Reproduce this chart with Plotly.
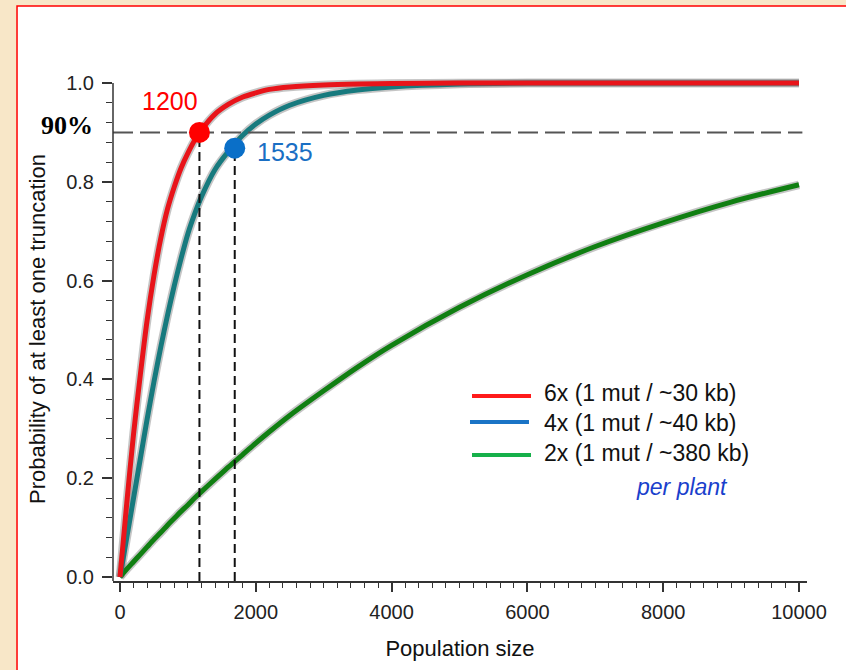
import plotly.graph_objects as go

# ---- data ----
population = [0, 100, 200, 300, 400, 500, 600, 700, 800, 900, 1000, 1100, 1200, 1400, 1600,
              1800, 2000, 2200, 2500, 3000, 3500, 4000, 5000, 6000, 7000, 8000, 9000, 10000]
prob_6x = [0, 0.15, 0.29, 0.41, 0.52, 0.61, 0.685, 0.745, 0.79, 0.828, 0.858, 0.884, 0.905, 0.937, 0.957,
           0.971, 0.98, 0.987, 0.992, 0.996, 0.998, 0.999, 1.0, 1.0, 1.0, 1.0, 1.0, 1.0]
prob_4x = [0, 0.08, 0.16, 0.24, 0.32, 0.395, 0.465, 0.53, 0.59, 0.645, 0.695, 0.735, 0.77, 0.825, 0.862,
           0.893, 0.917, 0.935, 0.955, 0.975, 0.986, 0.992, 0.998, 1.0, 1.0, 1.0, 1.0, 1.0]
prob_2x = [0, 0.016, 0.031, 0.046, 0.061, 0.076, 0.09, 0.105, 0.119, 0.133, 0.146, 0.16, 0.173, 0.198, 0.223,
           0.247, 0.271, 0.294, 0.327, 0.377, 0.425, 0.469, 0.546, 0.612, 0.669, 0.717, 0.759, 0.794]

series_names = ["6x (1 mut / ~30 kb)", "4x (1 mut / ~40 kb)", "2x (1 mut / ~380 kb)"]
threshold = 0.9
marker_pop = [1170, 1690]
marker_prob = [0.9, 0.868]
marker_labels = ["1200", "1535"]
x_ticks = [0, 2000, 4000, 6000, 8000, 10000]
y_ticks = [0.0, 0.2, 0.4, 0.6, 0.8, 1.0]

FONT = "Arial, Liberation Sans, sans-serif"
curve_colors = ["#e8141a", "#177a7e", "#107f12"]
legend_colors = ["#ff1a1a", "#1a74c6", "#16b04a"]

fig = go.Figure()

# gray halos then coloured curves
for ys in [prob_2x, prob_4x, prob_6x]:
    fig.add_trace(go.Scatter(x=population, y=ys, mode="lines", showlegend=False, hoverinfo="skip",
                             line=dict(color="rgba(140,140,140,0.5)", width=8.5, shape="spline", smoothing=0.8)))
for ys, c, n in [(prob_2x, curve_colors[2], series_names[2]),
                 (prob_4x, curve_colors[1], series_names[1]),
                 (prob_6x, curve_colors[0], series_names[0])]:
    fig.add_trace(go.Scatter(x=population, y=ys, mode="lines", name=n, showlegend=False,
                             line=dict(color=c, width=5, shape="spline", smoothing=0.8)))

# 90% threshold dashed line
fig.add_trace(go.Scatter(x=[-103, 10050], y=[threshold, threshold], mode="lines", showlegend=False,
                         hoverinfo="skip", line=dict(color="#555555", width=2, dash="20px,7px")))
# vertical dashed drops
for px_, py_ in zip(marker_pop, marker_prob):
    fig.add_trace(go.Scatter(x=[px_, px_], y=[-0.008, py_], mode="lines", showlegend=False, hoverinfo="skip",
                             line=dict(color="#111111", width=2, dash="9px,5px")))
# markers
fig.add_trace(go.Scatter(x=marker_pop, y=marker_prob, mode="markers", showlegend=False, cliponaxis=False,
                         marker=dict(size=21, color=["#ff0000", "#0a6fc8"], line=dict(width=0))))

# marker labels
fig.add_annotation(x=marker_pop[0], y=marker_prob[0], text=marker_labels[0], showarrow=False,
                   xanchor="center", yanchor="middle",
                   xshift=-29, yshift=31, font=dict(family=FONT, size=25, color="#ff0000"))
fig.add_annotation(x=marker_pop[1], y=marker_prob[1], text=marker_labels[1], showarrow=False,
                   xanchor="center", yanchor="middle",
                   xshift=50, yshift=-4, font=dict(family=FONT, size=25, color="#1a6fc4"))
fig.add_annotation(x=-0.0663, xref="paper", y=0.914, yref="y", text="<b>90%</b>", showarrow=False,
                   xanchor="center", yanchor="middle",
                   font=dict(family="Liberation Serif, Times New Roman, serif", size=26, color="#000000"))

# legend (drawn as key lines + text)
leg_rows_y = [0.373, 0.3135, 0.254]
key_y = [0.367, 0.3155, 0.25]
key_x0 = [0.5173, 0.5144, 0.5173]
for i in range(3):
    fig.add_shape(type="line", xref="paper", yref="paper", x0=key_x0[i], x1=key_x0[i] + 0.085,
                  y0=key_y[i], y1=key_y[i], line=dict(color=legend_colors[i], width=4))
    fig.add_annotation(xref="paper", yref="paper", x=0.6182, y=leg_rows_y[i], xanchor="left",
                       yanchor="middle", text=series_names[i], showarrow=False,
                       font=dict(family=FONT, size=23, color="#111111"))
fig.add_annotation(xref="paper", yref="paper", x=0.8199, y=0.1865, text="<i>per plant</i>",
                   xanchor="center", yanchor="middle",
                   showarrow=False, font=dict(family=FONT, size=23, color="#1a3fcc"))

# white panel with red border, and y axis spine
fig.add_shape(type="rect", xref="paper", yref="paper", x0=-0.1383, x1=1.07, y0=-0.2, y1=1.1409,
              line=dict(color="#ff0000", width=1.5), fillcolor="white", layer="below")
fig.add_shape(type="line", xref="paper", yref="y", x0=0, x1=0, y0=-0.008, y1=1.0,
              line=dict(color="#333333", width=1.5))

fig.update_layout(
    width=846, height=670,
    margin=dict(l=113, r=39, t=77, b=89),
    paper_bgcolor="#f8e7c8", plot_bgcolor="rgba(0,0,0,0)",
    font=dict(family=FONT, size=20, color="#222222"),
    showlegend=False,
)
fig.update_xaxes(range=[-103, 10118], tickvals=x_ticks, ticktext=[str(v) for v in x_ticks],
                 tickfont=dict(family=FONT, size=20, color="#222222"),
                 showgrid=False, zeroline=False, showline=True, linecolor="#333333", linewidth=1.5,
                 ticks="outside", ticklen=9, tickwidth=1.5, tickcolor="#333333", ticklabelstandoff=3,
                 minor=dict(dtick=200, ticks="outside", ticklen=5, tickwidth=1.2, tickcolor="#333333",
                            showgrid=False),
                 title=dict(text="Population size", standoff=19, font=dict(size=22, color="#111111")))
fig.update_yaxes(range=[-0.008, 1.0121], tickvals=y_ticks, ticktext=[f"{v:.1f}" for v in y_ticks],
                 tickfont=dict(family=FONT, size=20, color="#222222"),
                 showgrid=False, zeroline=False, showline=False,
                 ticks="outside", ticklen=10, tickwidth=1.5, tickcolor="#333333", ticklabelstandoff=4,
                 minor=dict(tickvals=[round(0.04 * k, 2) for k in range(26)], ticks="outside", ticklen=6,
                            tickwidth=1.2, tickcolor="#333333", showgrid=False),
                 title=dict(text="Probability of at least one truncation", standoff=14,
                            font=dict(size=22, color="#111111")))

fig.write_html("out.html")
